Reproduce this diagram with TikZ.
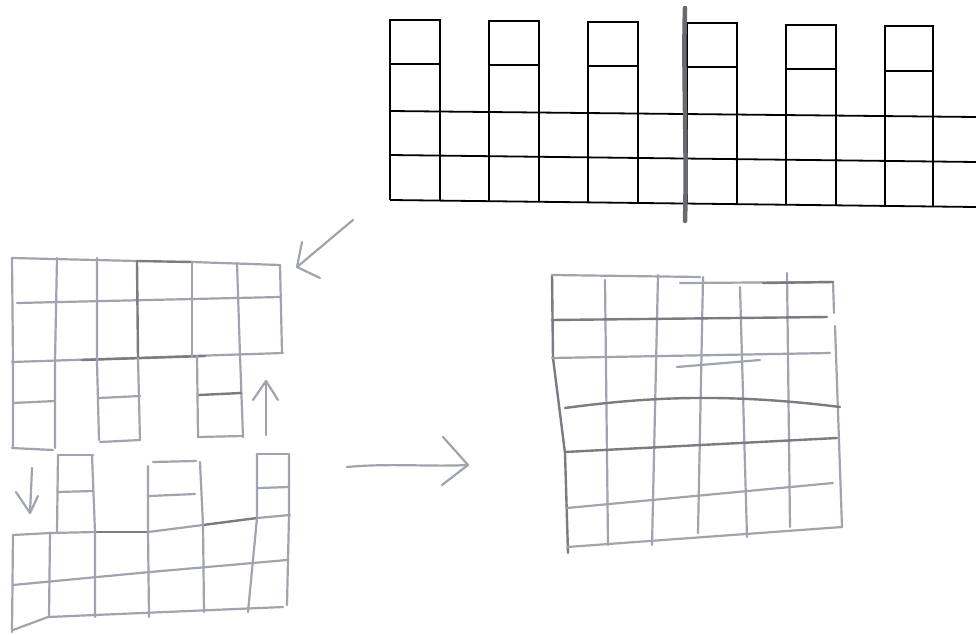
\documentclass[tikz,border=0pt]{standalone}
\definecolor{pencilc}{RGB}{160,164,174}
\definecolor{pencild}{RGB}{122,124,132}
\definecolor{graybar}{RGB}{105,105,110}
\tikzset{
  pencil/.style={draw=pencilc, line width=2.2pt, line cap=round, line join=round},
  pencildk/.style={draw=pencild, line width=2.4pt, line cap=round, line join=round},
  ink/.style={draw=black, line width=1.8pt, line join=miter},
  bar/.style={draw=graybar, line width=4.5pt, line cap=round},
}
\begin{document}
\begin{tikzpicture}[x=1pt,y=-1pt]
\fill[white] (0,0) rectangle (976,634);
\useasboundingbox (0,0) rectangle (976,634);

% ---------------- top printed grid ----------------
\draw[ink] (390,111) -- (976,117);
\draw[ink] (390,155) -- (976,162);
\draw[ink] (390,200) -- (976,207);
\foreach \L/\R/\T/\M in {390/440/20/64, 489/539/21/65, 588/638/22/66, 687/737/23/67, 786/836/25/69, 885/933/26/71}{
  \pgfmathsetmacro{\bl}{200+(\L-390)*7/586}
  \pgfmathsetmacro{\br}{200+(\R-390)*7/586}
  \draw[ink] (\L,\bl) -- (\L,\T) -- (\R,\T) -- (\R,\br);
  \draw[ink] (\L,\M) -- (\R,\M);
}
\draw[bar] (685,8) .. controls (683,70) and (687,150) .. (685,221);

% ---------------- left sketch: upper part ----------------
\draw[pencil] (12,258) -- (137,261);
\draw[pencildk] (137,261) -- (192,262);
\draw[pencil] (192,262) -- (280,265);
\draw[pencil] (17,303) -- (280,297);
\draw[pencil] (12,362) -- (283,353);
\draw[pencildk] (82,360) -- (205,356);
% verticals
\draw[pencil] (12,258) -- (13,362) -- (13,448);
\draw[pencil] (57,258) -- (55,362) -- (55,448);
\draw[pencil] (97,258) -- (97,362) -- (99,440);
\draw[pencildk] (137,262) -- (138,358);
\draw[pencil] (138,358) -- (140,440);
\draw[pencil] (192,262) -- (192,356);
\draw[pencil] (197,356) -- (198,437);
\draw[pencil] (237,263) -- (240,355) -- (243,437);
\draw[pencil] (280,265) -- (282,353);
% hanging pieces
\draw[pencil] (13,403) -- (55,401);
\draw[pencil] (12,448) -- (53,450);
\draw[pencil] (99,398) -- (140,396);
\draw[pencil] (100,442) -- (140,440);
\draw[pencildk] (199,395) -- (241,393);
\draw[pencil] (198,437) -- (243,436);

% ---------------- left sketch: lower part ----------------
\draw[pencil] (13,535) -- (50,533);
\draw[pencil] (50,533) -- (97,532);
\draw[pencildk] (97,532) -- (148,532);
\draw[pencil] (148,532) -- (203,525);
\draw[pencildk] (203,525) -- (257,518);
\draw[pencil] (257,518) -- (290,515);
\draw[pencil] (13,585) -- (150,572) -- (287,560);
\draw[pencil] (13,630) -- (48,617) -- (283,607);
% verticals
\draw[pencil] (13,535) -- (12,632);
\draw[pencil] (50,533) -- (49,617);
\draw[pencil] (58,455) -- (57,532);
\draw[pencil] (92,455) -- (95,532) -- (95,617);
\draw[pencil] (148,466) -- (148,532) -- (149,617);
\draw[pencil] (200,462) -- (203,525) -- (204,612);
\draw[pencil] (257,454) -- (257,518) -- (248,612);
\draw[pencil] (289,454) -- (289,515) -- (287,605);
% towers
\draw[pencil] (58,455) -- (93,455);
\draw[pencil] (58,492) -- (93,491);
\draw[pencil] (153,462) -- (196,461);
\draw[pencil] (149,496) -- (195,494);
\draw[pencil] (257,454) -- (289,454);
\draw[pencil] (258,488) -- (289,487);

% ---------------- arrows ----------------
\coordinate (dA) at (32,468); \coordinate (dB) at (30,513);
\draw[pencil] (dA) -- (dB);
\draw[pencil] (16,492) -- (dB) -- (38,496);
\coordinate (uA) at (266,435); \coordinate (uB) at (266,381);
\draw[pencil] (uA) -- (uB);
\draw[pencil] (253,400) -- (uB) -- (278,400);
\coordinate (gA) at (353,220); \coordinate (gB) at (297,267);
\draw[pencil] (gA) -- (gB);
\draw[pencil] (302,242) -- (gB) -- (320,278);
\coordinate (rA) at (347,467); \coordinate (rB) at (468,465);
\draw[pencil] (rA) .. controls (390,463) and (430,467) .. (rB);
\draw[pencil] (443,437) -- (rB) -- (442,485);

% ---------------- right sketch: 6x6 grid ----------------
% verticals
\draw[pencildk] (552,275) -- (553,358) -- (565,453) -- (568,553);
\draw[pencil] (605,280) -- (608,545);
\draw[pencil] (658,275) -- (652,545);
\draw[pencil] (703,277) -- (698,533);
\draw[pencil] (740,287) -- (747,537);
\draw[pencil] (787,273) -- (790,527);
\draw[pencil] (833,282) -- (834,313);
\draw[pencil] (835,326) -- (842,527);
% horizontals
\draw[pencil] (552,275) -- (700,277);
\draw[pencil] (680,283) -- (833,282);
\draw[pencildk] (763,283) -- (833,282);
\draw[pencildk] (552,320) -- (827,317);
\draw[pencil] (552,358) -- (830,353);
\draw[pencil] (677,367) -- (760,360);
\draw[pencildk] (565,408) .. controls (640,398) and (720,392) .. (840,407);
\draw[pencildk] (565,452) -- (837,438);
\draw[pencil] (567,508) -- (833,483);
\draw[pencil] (567,547) -- (842,527);
\end{tikzpicture}
\end{document}
